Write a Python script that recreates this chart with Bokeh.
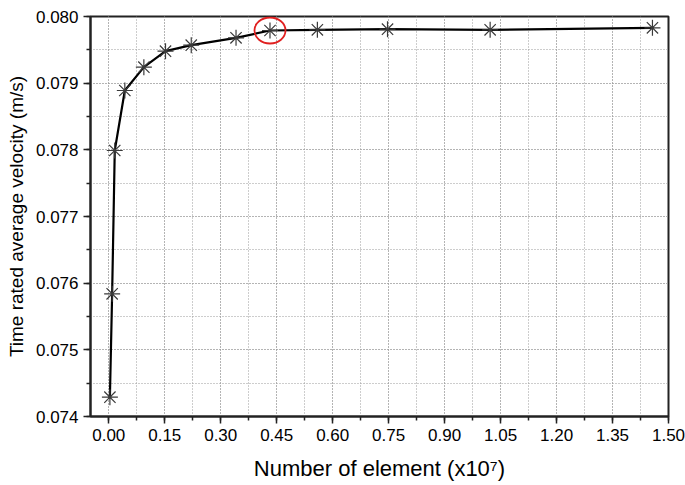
from bokeh.plotting import figure
from bokeh.models import FixedTicker, SingleIntervalTicker, NumeralTickFormatter, Range1d
from bokeh.embed import file_html
from bokeh.resources import INLINE

# Number of elements (x10^7)
elements = [0.003, 0.009, 0.016, 0.043, 0.094, 0.152, 0.221, 0.341, 0.432, 0.559, 0.747, 1.022, 1.457]
# Time rated average velocity (m/s)
velocity = [0.07429, 0.07584, 0.07799, 0.07889, 0.07924, 0.07948, 0.07957, 0.07968, 0.07979, 0.07980, 0.07981, 0.07980, 0.07983]
# highlighted (selected) mesh
selected_index = 8

x_ticks = [0.0, 0.15, 0.30, 0.45, 0.60, 0.75, 0.90, 1.05, 1.20, 1.35, 1.50]
x_minor = [round(0.075 * i, 3) for i in range(-1, 21)]

FONT = "Liberation Sans"

p = figure(width=685, height=485, output_backend="svg", toolbar_location=None,
           x_range=Range1d(-0.049, 1.50), y_range=Range1d(0.074, 0.080),
           min_border_left=90, min_border_right=17, min_border_top=16, min_border_bottom=69)
p.background_fill_color = "white"
p.border_fill_color = "white"
p.outline_line_color = "#222222"
p.outline_line_width = 2

# axes
p.xaxis.ticker = FixedTicker(ticks=x_ticks, minor_ticks=x_minor)
p.yaxis.ticker = SingleIntervalTicker(interval=0.001, num_minor_ticks=2)
p.xaxis.formatter = NumeralTickFormatter(format="0.00")
p.yaxis.formatter = NumeralTickFormatter(format="0.000")
for ax in (p.xaxis, p.yaxis):
    ax.axis_line_color = "#222222"
    ax.axis_line_width = 2
    ax.major_tick_line_color = "#222222"
    ax.major_tick_line_width = 1.5
    ax.minor_tick_line_color = "#222222"
    ax.minor_tick_line_width = 1.5
    ax.major_tick_out = 7
    ax.major_tick_in = 0
    ax.minor_tick_out = 4
    ax.minor_tick_in = 0
    ax.major_label_text_font = FONT
    ax.major_label_text_font_size = "17px"
    ax.major_label_text_color = "black"
    ax.axis_label_text_font = FONT
    ax.axis_label_text_font_style = "normal"
    ax.axis_label_text_color = "black"
p.xaxis.axis_label_text_font_size = "22px"
p.yaxis.axis_label_text_font_size = "19px"
p.xaxis.axis_label = "Number of element (x10⁷)"
p.yaxis.axis_label = "Time rated average velocity (m/s)"
p.xaxis.major_label_standoff = 5
p.yaxis.major_label_standoff = 5
p.xaxis.axis_label_standoff = 12
p.yaxis.axis_label_standoff = 6

# grid
for g in (p.xgrid, p.ygrid):
    g.grid_line_color = "#9a9a9a"
    g.grid_line_dash = "1 2"
    g.grid_line_width = 1
    g.minor_grid_line_color = "#9a9a9a"
    g.minor_grid_line_dash = "1 2"
    g.minor_grid_line_width = 1

p.line(elements, velocity, line_color="black", line_width=2.2)
p.scatter(elements, velocity, marker="asterisk", size=16, line_color="#3a3a3a", line_width=1.2)
p.ellipse([elements[selected_index]], [velocity[selected_index]], width=31, height=26,
          width_units="screen", height_units="screen",
          fill_color=None, line_color="#e02020", line_width=1.8)

open("out.html", "w").write(file_html(p, INLINE))
